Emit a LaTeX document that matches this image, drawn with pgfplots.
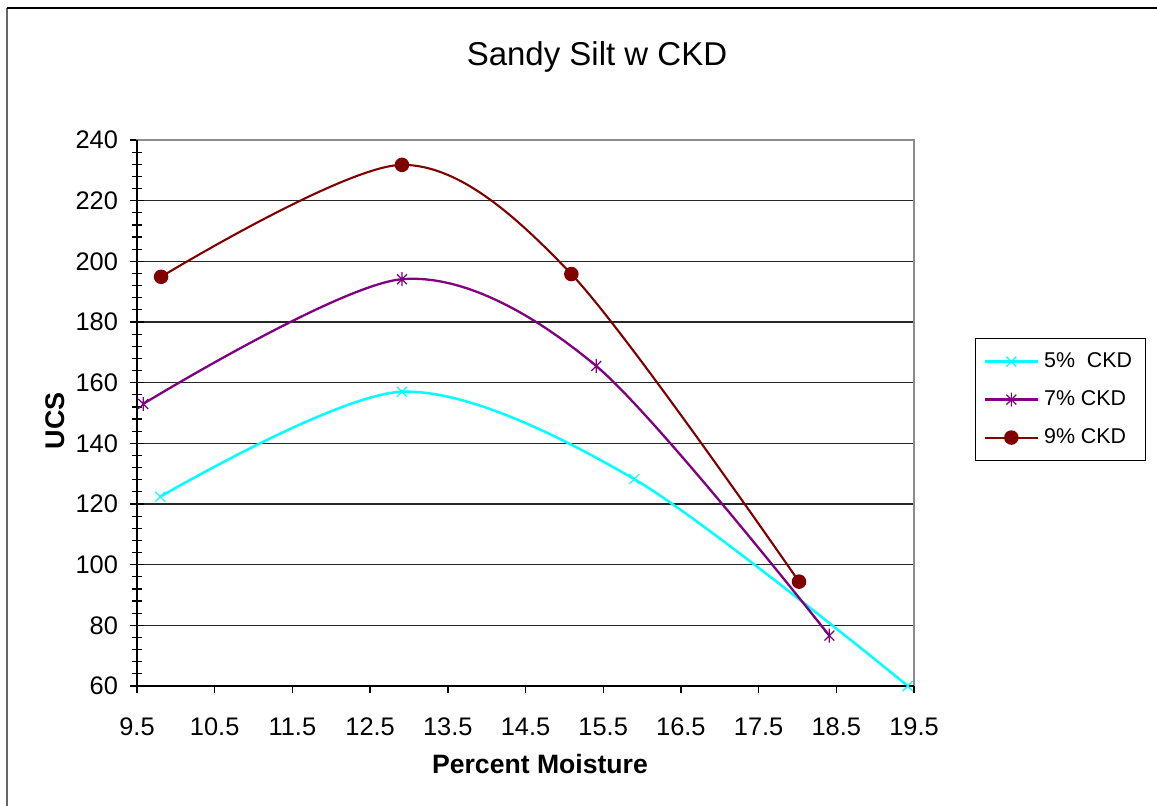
\documentclass[border=0pt]{standalone}
\usepackage{pgfplots}
\pgfplotsset{compat=1.18}
\usepackage{fontspec}
\setmainfont{Liberation Sans}
\definecolor{cyanL}{RGB}{0,255,255}
\definecolor{purpL}{RGB}{128,0,128}
\definecolor{redL}{RGB}{128,0,0}
\pgfdeclareplotmark{xstar}{%
  \pgfpathmoveto{\pgfqpoint{-0.7071\pgfplotmarksize}{-0.7071\pgfplotmarksize}}%
  \pgfpathlineto{\pgfqpoint{0.7071\pgfplotmarksize}{0.7071\pgfplotmarksize}}%
  \pgfpathmoveto{\pgfqpoint{-0.7071\pgfplotmarksize}{0.7071\pgfplotmarksize}}%
  \pgfpathlineto{\pgfqpoint{0.7071\pgfplotmarksize}{-0.7071\pgfplotmarksize}}%
  \pgfpathmoveto{\pgfqpoint{0pt}{-\pgfplotmarksize}}%
  \pgfpathlineto{\pgfqpoint{0pt}{\pgfplotmarksize}}%
  \pgfusepathqstroke}
\begin{document}
\begin{tikzpicture}
\fill[white] (0,0) rectangle (578.5pt,403pt);
\useasboundingbox (0,0) rectangle (578.5pt,403pt);
\draw[line width=1pt, black!60] (3.6pt,0) -- (3.6pt,399pt);
\draw[line width=1pt, black] (3.6pt,399pt) -- (578.5pt,399pt);
\begin{axis}[
  at={(68.5pt,60pt)}, anchor=south west,
  scale only axis, width=388.5pt, height=273pt,
  xmin=9.5, xmax=19.5, ymin=60, ymax=240,
  xtick=\empty,
  extra x ticks={9.5,10.5,...,19.5},
  extra x tick style={major tick length=3.5pt, tick align=outside,
     xticklabel={\pgfmathprintnumber[fixed,fixed zerofill,precision=1]{\tick}}},
  ytick={60,80,...,240},
  minor y tick num=4,
  xtick pos=bottom, ytick pos=left,
  ytick align=center,
  major tick length=7pt, minor tick length=5pt,
  x tick style={line width=0.7pt, black},
  y tick style={line width=0.6pt, black},
  ymajorgrids, grid style={line width=0.6pt, black!85},
  axis line style={line width=1pt, black!45},
  tick label style={font=\fontsize{12.7pt}{14pt}\selectfont},
  /pgf/number format/assume math mode=true,
  yticklabel style={xshift=-2.5pt},
  xticklabel style={yshift=-9pt},
  legend style={at={(1.0785,0.6374)}, anchor=north west, draw=black, line width=0.6pt,
    font=\fontsize{10.7pt}{12pt}\selectfont, inner xsep=4pt, inner ysep=2.5pt,
    row sep=1pt, nodes={inner xsep=2.5pt, inner ysep=4pt, text height=8pt, text depth=2pt}},
  legend cell align=left,
  legend image code/.code={\draw[mark repeat=2,mark phase=2] plot coordinates {(0pt,0pt) (13.25pt,0pt) (26.5pt,0pt)};},
  clip=false,
]
\addplot[cyanL, line width=1.25pt, smooth, mark=x, mark size=3.5pt, mark options={line width=0.6pt}] coordinates {
 (9.8,122.4) (12.91,157) (15.9,128.2) (19.42,60)};
\addlegendentry{5\%\ \ CKD}
\addplot[purpL, line width=1.15pt, smooth, mark=xstar, mark size=3.5pt, mark options={line width=0.6pt}] coordinates {
 (9.58,153) (12.91,194.1) (15.41,165.5) (18.41,76.6)};
\addlegendentry{7\% CKD}
\addplot[redL, line width=1.05pt, smooth, mark=*, mark size=3.1pt] coordinates {
 (9.81,194.9) (12.91,231.8) (15.09,195.8) (18.02,94.4)};
\addlegendentry{9\% CKD}
\draw[line width=1pt, black] (rel axis cs:0,1) -- (rel axis cs:0,0) -- (rel axis cs:1,0);
\end{axis}
\node[font=\fontsize{16.5pt}{19pt}\selectfont] at (298.5pt,374.5pt) {Sandy Silt w CKD};
\node[font=\fontsize{13.3pt}{15pt}\selectfont\bfseries] at (270pt,21pt) {Percent Moisture};
\node[font=\fontsize{13.5pt}{15pt}\selectfont\bfseries, rotate=90] at (27.5pt,192.5pt) {UCS};
\end{tikzpicture}
\end{document}
